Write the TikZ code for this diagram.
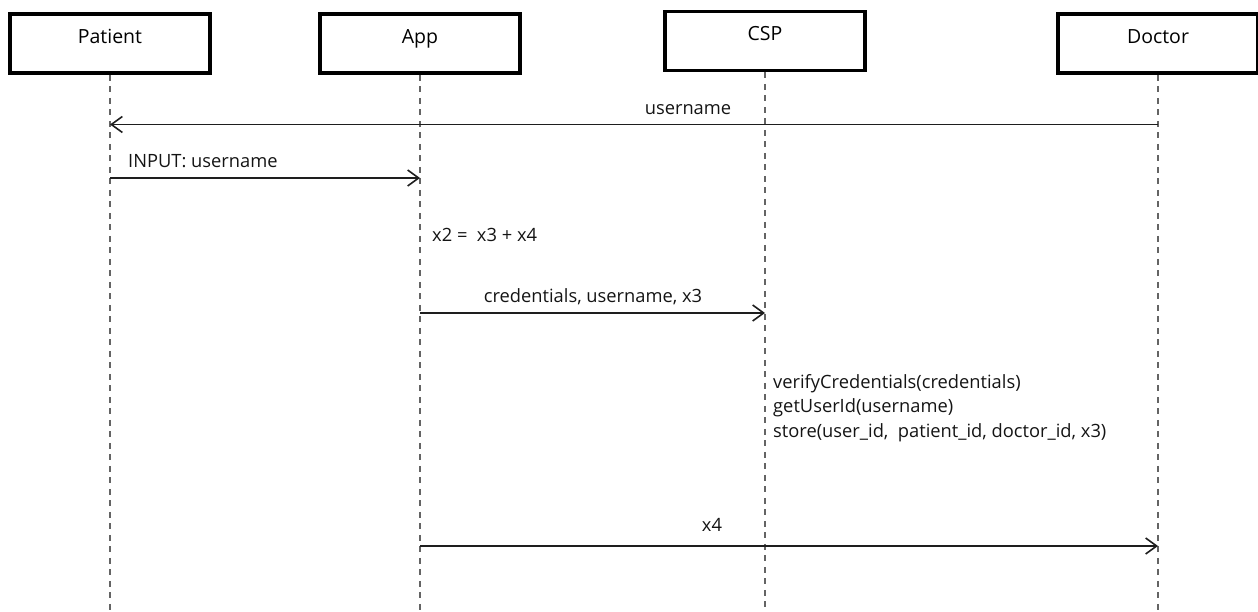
\documentclass[tikz,border=0pt]{standalone}
\usepackage{fontspec}
\setmainfont{Open Sans}
\usetikzlibrary{arrows.meta}

\definecolor{lifegray}{RGB}{100,100,100}
\definecolor{msgink}{RGB}{30,30,30}
\definecolor{labelink}{RGB}{20,20,20}

\tikzset{
  actor/.style={draw=black, line width=3.6pt, fill=white, rectangle,
    minimum width=200pt, minimum height=59pt, inner sep=0pt,
    text height=14pt, text depth=14pt, font=\fontsize{19.5pt}{22pt}\selectfont},
  lifeline/.style={draw=lifegray, line width=1.8pt, dash pattern=on 6pt off 5.5pt},
  msg/.style={draw=msgink, line width=1.6pt,
    -{Straight Barb[length=11pt,width=16pt,line width=1.6pt]}},
  lbl/.style={anchor=base, inner sep=0pt, text=labelink,
    font=\fontsize{18.3pt}{24.5pt}\selectfont},
}

\begin{document}
\begin{tikzpicture}[x=1pt, y=-1pt]
  \useasboundingbox (0,0) rectangle (1258,612);

  % lower ends of the lifelines
  \coordinate (patientEnd) at (110,612);
  \coordinate (appEnd)     at (420,612);
  \coordinate (cspEnd)     at (765,612);
  \coordinate (doctorEnd)  at (1158,612);

  % participants
  \node[actor] (patient) at (110,43.5) {Patient};
  \node[actor] (app)     at (420,43.5) {App};
  \node[actor] (csp)     at (765,41)   {CSP};
  \node[actor] (doctor)  at (1158,43.5) {Doctor};

  % lifelines
  \draw[lifeline] (patient.south) -- (patientEnd);
  \draw[lifeline] (app.south) -- (appEnd);
  \draw[lifeline] (csp.south) -- (cspEnd);
  \draw[lifeline] (doctor.south) -- (doctorEnd);

  % message anchor points on the lifelines
  \coordinate (m1a) at (doctor  |- 0,124.5);
  \coordinate (m1b) at (patient |- 0,124.5);
  \coordinate (m2a) at (patient |- 0,178);
  \coordinate (m2b) at (app     |- 0,178);
  \coordinate (m3a) at (app     |- 0,313);
  \coordinate (m3b) at (csp     |- 0,313);
  \coordinate (m4a) at (app     |- 0,546);
  \coordinate (m4b) at (doctor  |- 0,546);

  % messages
  \draw[msg] (m1a) -- (m1b);
  \node[lbl] (l1) at (688,115) {username};

  \draw[msg] (m2a) -- (m2b);
  \node[lbl, anchor=base west] (l2) at (128,168) {INPUT: username};

  \node[lbl, anchor=base west] (l3) at (432,242) {x2 =\ \ x3 + x4};

  \draw[msg] (m3a) -- (m3b);
  \node[lbl] (l4) at (593,302) {credentials, username, x3};

  % processing done by the CSP
  \node[lbl, anchor=base west] (c1) at (773,388) {verifyCredentials(credentials)};
  \node[lbl, anchor=base west] (c2) at (773,412.5) {getUserId(username)};
  \node[lbl, anchor=base west] (c3) at (773,437) {store(user\_id,\ \ patient\_id, doctor\_id, x3)};

  \draw[msg] (m4a) -- (m4b);
  \node[lbl] (l6) at (712,531) {x4};
\end{tikzpicture}
\end{document}
